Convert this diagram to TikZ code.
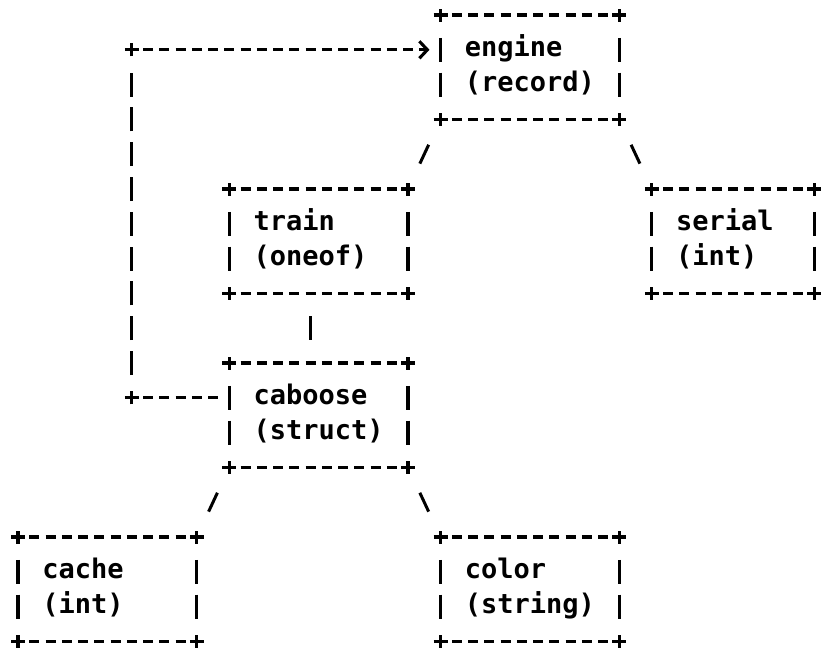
\documentclass[tikz,border=0pt]{standalone}
\usepackage{fontspec}
\usepackage{tikz}
\usetikzlibrary{arrows.meta}
\newfontfamily\boxfont{DejaVu Sans Mono}

\begin{document}
\begin{tikzpicture}[x=16.25pt,y=-34.8pt,
  typebox/.style={inner xsep=24.375pt,inner ysep=0pt,outer sep=0pt,text width=130pt,
    minimum height=104.4pt,align=left,font=\boxfont\bfseries\fontsize{27}{34.8}\selectfont},
  dashline/.style={line width=3.1pt,dash pattern=on 10pt off 6.25pt,dash phase=5pt},
  barline/.style={line width=3.2pt,dash pattern=on 24pt off 10.8pt,dash phase=29.4pt,
    shorten <=17.4pt,shorten >=17.4pt},
  stroke/.style={line width=3pt,shorten <=#1,shorten >=#1},
  plusmark/.pic={\draw[line width=3.1pt] (-7pt,0) -- (7pt,0) (0,-6.5pt) -- (0,6.5pt);}]
\useasboundingbox[fill=white] (-18pt,15pt) rectangle (810pt,-639pt);
\node[typebox] (engine) at (31.5,1.5) {\strut engine\\\strut (record)}; %0
\node[typebox] (train) at (18.5,6.5) {\strut train\\\strut (oneof)}; %1
\node[typebox,text width=113.75pt] (serial) at (44,6.5) {\strut serial\\\strut (int)}; %2
\node[typebox] (caboose) at (18.5,11.5) {\strut caboose\\\strut (struct)}; %3
\node[typebox] (cache) at (5.5,16.5) {\strut cache\\\strut (int)}; %4
\node[typebox] (color) at (31.5,16.5) {\strut color\\\strut (string)}; %5
\foreach \b in {engine,train,serial,caboose,cache,color} {
  \draw[dashline] (\b.north west) -- (\b.north east);
  \draw[dashline] (\b.south west) -- (\b.south east);
  \draw[barline] (\b.north west) -- (\b.south west);
  \draw[barline] (\b.north east) -- (\b.south east);
  \foreach \c in {north west,north east,south west,south east} { \pic at (\b.\c) {plusmark}; }
}
\draw[stroke=28pt] (engine.south west) -- (train.north east);
\draw[stroke=28pt] (engine.south east) -- (serial.north west);
\draw[stroke=23pt] ([xshift=-8.125pt]train.south) -- ([xshift=-8.125pt]caboose.north);
\draw[stroke=28pt] (caboose.south west) -- (cache.north east);
\draw[stroke=28pt] (caboose.south east) -- (color.north west);
% back link from caboose to engine
\coordinate (loopcorner) at (7,11);
\coordinate (looptop) at (7,1);
\draw[dashline,shorten >=9pt] (loopcorner) -- ([yshift=17.4pt]caboose.west);
\draw[barline] (loopcorner) -- (looptop);
\draw[dashline,shorten >=11pt,-{Straight Barb[length=8pt,width=17pt]}] (looptop) -- ([yshift=17.4pt]engine.west);
\pic at (loopcorner) {plusmark};
\pic at (looptop) {plusmark};
\end{tikzpicture}
\end{document}
